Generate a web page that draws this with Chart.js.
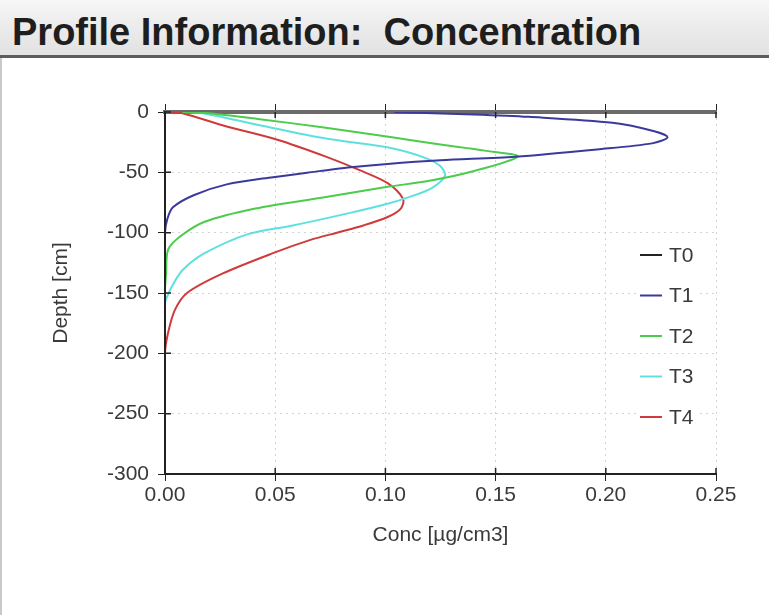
<!DOCTYPE html>
<html>
<head>
<meta charset="utf-8">
<script src="https://cdn.jsdelivr.net/npm/chart.js@4.4.1/dist/chart.umd.min.js"></script>
<style>
  html, body { margin: 0; padding: 0; background: #fff; }
  body { width: 769px; height: 615px; overflow: hidden; position: relative; font-family: 'Liberation Sans', Arial, sans-serif; }
  #header {
    position: absolute; left: 0; top: 0; width: 769px; height: 58px; box-sizing: border-box;
    background: linear-gradient(#f7f7f7 0%, #eeeeee 35%, #e2e2e2 100%);
    border-bottom: 3px solid #5c5c5c;
  }
  #header span {
    position: absolute; left: 12px; top: 11px; white-space: pre;
    font: bold 38px 'Liberation Sans', Arial, sans-serif; color: #1e1e1e;
  }
  #left-edge { position: absolute; left: 0; top: 58px; width: 2px; height: 557px; background: #c9c9c9; }
  #wrap { position: absolute; left: 0; top: 58px; width: 769px; height: 557px; }
</style>
</head>
<body>
<div id="header"><span>Profile Information:  Concentration</span></div>
<div id="wrap"><canvas id="graphic" width="769" height="557"></canvas></div>
<div id="left-edge"></div>
<script>
const seriesNames = ['T0', 'T1', 'T2', 'T3', 'T4']
const seriesColors = ['#222222', '#3a3a9c', '#4ccc4c', '#5fe0e0', '#cf3b3b']

const xTicks = [0, 0.05, 0.10, 0.15, 0.20, 0.25]
const yTicks = [0, -50, -100, -150, -200, -250, -300]

// concentracion [µg/cm3] y profundidad [cm]
const t0Conc = [0, 0]
const t0Depth = [-300, 0]

const t1Conc = [0, 0, 0.001, 0.0036, 0.013, 0.028, 0.049, 0.070, 0.083, 0.101, 0.125, 0.159, 0.196, 0.221, 0.228, 0.222, 0.203, 0.165, 0.140, 0.104]
const t1Depth = [-300, -100, -89, -79, -69, -60, -54, -49, -46, -43, -40, -37, -31, -26, -21, -16, -9, -4, -2, 0]

const t2Conc = [0, 0, 0.0005, 0.0014, 0.007, 0.018, 0.041, 0.071, 0.101, 0.120, 0.138, 0.160, 0.145, 0.125, 0.103, 0.073, 0.043, 0.020, 0.008]
const t2Depth = [-300, -148, -134, -114, -103, -91, -80, -71, -62, -57, -50, -37, -32, -27, -21, -13, -6, -1, 0]

const t3Conc = [0, 0, 0.001, 0.003, 0.008, 0.018, 0.038, 0.058, 0.083, 0.101, 0.110, 0.121, 0.127, 0.125, 0.118, 0.103, 0.073, 0.043, 0.017, 0.008]
const t3Depth = [-300, -158, -153, -145, -131, -117, -101, -94, -84, -76, -71, -63, -53, -45, -38, -30, -22, -11, -1, 0]

const t4Conc = [0, 0, 0.0014, 0.0045, 0.010, 0.026, 0.049, 0.066, 0.078, 0.090, 0.101, 0.107, 0.108, 0.101, 0.088, 0.073, 0.051, 0.028, 0.008, 0.003]
const t4Depth = [-300, -200, -183, -164, -150, -134, -117, -106, -100, -94, -87, -80, -72, -59, -48, -37, -23, -12, -1, 0]

const seriesConc = [t0Conc, t1Conc, t2Conc, t3Conc, t4Conc]
const seriesDepth = [t0Depth, t1Depth, t2Depth, t3Depth, t4Depth]

const FONT = "'Liberation Sans', Arial, sans-serif"
const TEXT = '#3a3a3a'

const toPoints = (conc, depth) => conc.map((c, i) => ({ x: c, y: depth[i] }))

// marcas de los ejes hacia dentro (cruzan el eje como en el original)
const marcasInternas = {
  id: 'marcasInternas',
  afterDraw(chart) {
    const { ctx, chartArea, scales } = chart
    ctx.save()
    ctx.strokeStyle = '#222'
    ctx.lineWidth = 1.5
    ctx.beginPath()
    scales.x.ticks.forEach(t => {
      const px = scales.x.getPixelForValue(t.value)
      ctx.moveTo(px, chartArea.bottom)
      ctx.lineTo(px, chartArea.bottom - 6)
      ctx.moveTo(px, chartArea.top)
      ctx.lineTo(px, chartArea.top + 6)
    })
    scales.y.ticks.forEach(t => {
      const py = scales.y.getPixelForValue(t.value)
      ctx.moveTo(chartArea.left, py)
      ctx.lineTo(chartArea.left + 6, py)
    })
    ctx.stroke()
    ctx.restore()
  }
}

// leyenda dibujada dentro del area del grafico
const leyendaInterna = {
  id: 'leyendaInterna',
  afterDatasetsDraw(chart) {
    const { ctx, chartArea } = chart
    ctx.save()
    ctx.font = '21px ' + FONT
    ctx.textBaseline = 'middle'
    chart.data.datasets.forEach((ds, i) => {
      const y = chartArea.top + 143 + i * 40.5
      const x = chartArea.right - 76
      ctx.fillStyle = '#fff'
      ctx.fillRect(x - 4, y - 14, 62, 28)
      ctx.strokeStyle = ds.borderColor
      ctx.lineWidth = 2
      ctx.beginPath()
      ctx.moveTo(x, y)
      ctx.lineTo(x + 22, y)
      ctx.stroke()
      ctx.fillStyle = TEXT
      ctx.fillText(ds.label, x + 29, y + 1)
    })
    ctx.restore()
  }
}

const renderGrafico = () => {
  const ctx = document.querySelector('#graphic').getContext('2d')
  new Chart(ctx, {
    type: 'scatter',
    data: {
      datasets: seriesNames.map((name, i) => ({
        label: name,
        data: toPoints(seriesConc[i], seriesDepth[i]),
        showLine: true,
        borderColor: seriesColors[i],
        backgroundColor: seriesColors[i],
        borderWidth: 2,
        pointRadius: 0,
        tension: 0.3
      }))
    },
    options: {
      responsive: false,
      animation: false,
      layout: { padding: { left: 45, right: 53, top: 46, bottom: 63 } },
      plugins: { legend: { display: false }, tooltip: { enabled: false } },
      scales: {
        x: {
          type: 'linear', position: 'bottom', min: 0, max: 0.25,
          afterBuildTicks: s => { s.ticks = xTicks.map(v => ({ value: v })) },
          afterFit: s => { s.height = 78 },
          ticks: { callback: v => v.toFixed(2), font: { family: FONT, size: 21 }, color: TEXT, padding: 2, maxRotation: 0 },
          grid: { color: '#d2d2d2', tickColor: '#222', tickLength: 7, tickBorderDash: [] },
          border: { display: true, color: '#222', width: 2, dash: [2, 4] },
          title: { display: true, text: 'Conc [µg/cm3]', font: { family: FONT, size: 21 }, color: TEXT }
        },
        x2: {
          type: 'linear', position: 'top', min: 0, max: 0.25,
          afterBuildTicks: s => { s.ticks = xTicks.map(v => ({ value: v })) },
          afterFit: s => { s.height = 8 },
          ticks: { display: false },
          grid: { drawOnChartArea: false, tickColor: '#222', tickLength: 8, tickBorderDash: [] },
          border: { display: true, color: '#6a6a6a', width: 4 }
        },
        y: {
          type: 'linear', position: 'left', min: -300, max: 0,
          afterBuildTicks: s => { s.ticks = yTicks.map(v => ({ value: v })) },
          afterFit: s => { s.width = 120 },
          ticks: { font: { family: FONT, size: 21 }, color: TEXT, padding: 9 },
          grid: { color: '#d2d2d2', tickColor: '#222', tickLength: 7, tickBorderDash: [] },
          border: { display: true, color: '#222', width: 2, dash: [2, 4] },
          title: { display: true, text: 'Depth [cm]', font: { family: FONT, size: 21 }, color: TEXT }
        }
      }
    },
    plugins: [leyendaInterna, marcasInternas]
  })
}

renderGrafico()
</script>
</body>
</html>
